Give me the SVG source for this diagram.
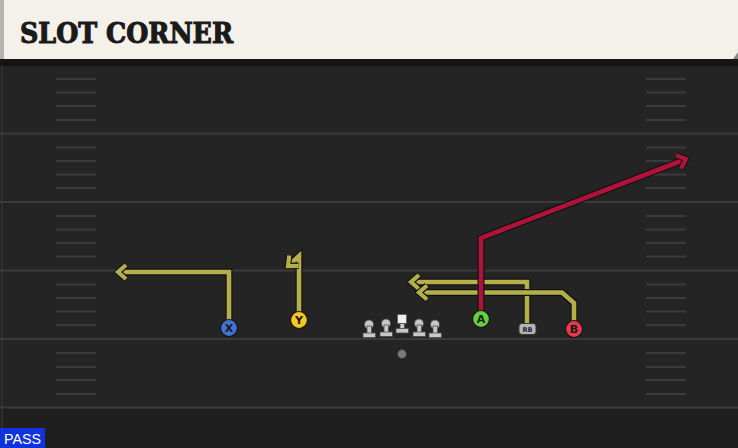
<svg xmlns="http://www.w3.org/2000/svg" width="738" height="448" viewBox="0 0 738 448">
<style>
.yl{stroke:#3a3a3a;stroke-width:2}
.hash{stroke:#3b3b3b;stroke-width:2}
.ro{fill:none;stroke:#121212;stroke-width:7;stroke-linejoin:miter}
.ry{fill:none;stroke:#b4ae4b;stroke-width:4.6;stroke-linejoin:miter}
.rr{fill:none;stroke:#b0123a;stroke-width:4.6;stroke-linejoin:miter}
.pl{stroke:#141414;stroke-width:1.2}
.lt{font-family:"DejaVu Sans",sans-serif;font-weight:bold;font-size:11px;fill:#1a1a1a;text-anchor:middle}
.ol{fill:#c9c9c9;stroke:#4a4a4a;stroke-width:0.8}
</style>
<defs>
<marker id="ay" viewBox="0 0 16 20" refX="12" refY="10" markerWidth="16" markerHeight="20" markerUnits="userSpaceOnUse" orient="auto">
<path d="M4,3 L12,10 L4,17" fill="none" stroke="#121212" stroke-width="6.4" stroke-linejoin="miter" stroke-miterlimit="6"/>
<path d="M4,3 L12,10 L4,17" fill="none" stroke="#b4ae4b" stroke-width="4.2" stroke-linejoin="miter" stroke-miterlimit="6"/>
</marker>
<marker id="ar" viewBox="0 0 16 20" refX="12" refY="10" markerWidth="16" markerHeight="20" markerUnits="userSpaceOnUse" orient="auto">
<path d="M4,3 L12,10 L4,17" fill="none" stroke="#121212" stroke-width="6.4" stroke-linejoin="miter" stroke-miterlimit="6"/>
<path d="M4,3 L12,10 L4,17" fill="none" stroke="#b0123a" stroke-width="4.2" stroke-linejoin="miter" stroke-miterlimit="6"/>
</marker>
</defs>
<g id="field">
<rect x="0" y="0" width="738" height="448" fill="#242424"/>
<rect x="0" y="408" width="738" height="40" fill="#1f1f1f"/>
<line x1="2" y1="60" x2="2" y2="448" stroke="#2e2e2e" stroke-width="2"/>
<line class="yl" x1="0" y1="133.5" x2="738" y2="133.5"/>
<line class="yl" x1="0" y1="202" x2="738" y2="202"/>
<line class="yl" x1="0" y1="270.5" x2="738" y2="270.5"/>
<line class="yl" x1="0" y1="339" x2="738" y2="339"/>
<line class="yl" x1="0" y1="407.5" x2="738" y2="407.5"/>
<g class="hash">
<path d="M56,79H96M56,92.5H96M56,106H96M56,120H96M56,147.5H96M56,161H96M56,174.5H96M56,188H96M56,216H96M56,229.5H96M56,243H96M56,256.5H96M56,284.5H96M56,298H96M56,311.5H96M56,325H96M56,353H96M56,367H96M56,380H96M56,394H96"/>
<path d="M646,79H686M646,92.5H686M646,106H686M646,120H686M646,147.5H686M646,161H686M646,174.5H686M646,188H686M646,216H686M646,229.5H686M646,243H686M646,256.5H686M646,284.5H686M646,298H686M646,311.5H686M646,325H686M646,353H686M646,367H686M646,380H686M646,394H686"/>
</g>
</g>
<g id="header">
<rect x="0" y="58" width="738" height="8" fill="#151515"/>
<rect x="0" y="0" width="738" height="59" fill="#f4f1ea"/>
<rect x="0" y="0" width="4" height="59" fill="#b5b5b0"/>
<path d="M738,52 L733,59 L738,59 Z" fill="#8a8a85"/>
<text x="20" y="43" font-family="'DejaVu Serif Condensed','DejaVu Serif',serif" font-weight="bold" font-size="28" fill="#1a1a1a" stroke="#1a1a1a" stroke-width="1" textLength="213" lengthAdjust="spacingAndGlyphs">SLOT CORNER</text>
</g>
<g id="connectors">
<path class="ro" d="M229,322 V272 H118"/>
<path class="ry" d="M229,322 V272 H118" marker-end="url(#ay)"/>
<path class="ro" d="M299,313 V256 L288,266"/>
<path class="ry" d="M299,313 V256 L288,266" marker-end="url(#ay)"/>
<path class="ro" d="M527,325 V282 H411"/>
<path class="ry" d="M527,325 V282 H411" marker-end="url(#ay)"/>
<path class="ro" d="M574,322 V303 L562,292.5 H419"/>
<path class="ry" d="M574,322 V303 L562,292.5 H419" marker-end="url(#ay)"/>
<path class="ro" d="M481,312 V238 L686,159"/>
<path class="rr" d="M481,312 V238 L686,159" marker-end="url(#ar)"/>
</g>
<g id="X"><circle class="pl" cx="229" cy="328" r="8.5" fill="#3f73d6"/><text class="lt" x="229" y="332">X</text></g>
<g id="Y"><circle class="pl" cx="299" cy="320" r="8.5" fill="#f3c724"/><text class="lt" x="299" y="324">Y</text></g>
<g id="A"><circle class="pl" cx="481" cy="319" r="8.5" fill="#62cf3c"/><text class="lt" x="481" y="323">A</text></g>
<g id="B"><circle class="pl" cx="574" cy="329" r="8.5" fill="#e43a4b"/><text class="lt" x="574" y="333">B</text></g>
<g id="RB"><rect x="519" y="323.5" width="17" height="11" rx="3" fill="#b5b5b5" stroke="#3a3a3a" stroke-width="1"/><text x="527.5" y="332" font-family="'DejaVu Sans',sans-serif" font-weight="bold" font-size="6.5" fill="#222" text-anchor="middle">RB</text></g>
<g id="LT"><circle class="ol" cx="369" cy="324.5" r="4.5"/><rect class="ol" x="367" y="326" width="4.5" height="8"/><rect class="ol" x="363" y="333" width="12.5" height="4.5"/></g>
<g id="LG"><circle class="ol" cx="386" cy="323.5" r="4.5"/><rect class="ol" x="384" y="325" width="4.5" height="8"/><rect class="ol" x="380" y="332" width="12.5" height="4.5"/></g>
<g id="C"><rect x="397.5" y="314.5" width="9" height="9" fill="#f0f0f0" stroke="#5a5a5a" stroke-width="0.8"/><rect class="ol" x="400" y="323.5" width="4.5" height="5.5"/><rect class="ol" x="396" y="328.5" width="12.5" height="4.5"/></g>
<g id="RG"><circle class="ol" cx="419" cy="323.5" r="4.5"/><rect class="ol" x="417" y="325" width="4.5" height="8"/><rect class="ol" x="413" y="332" width="12.5" height="4.5"/></g>
<g id="RT"><circle class="ol" cx="435" cy="324.5" r="4.5"/><rect class="ol" x="433" y="326" width="4.5" height="8"/><rect class="ol" x="429" y="333" width="12.5" height="4.5"/></g>
<g id="QB"><circle cx="402" cy="354" r="4.5" fill="#7a7a7a" stroke="#333" stroke-width="0.8"/></g>
<g id="pass"><rect x="0" y="428" width="45" height="20" fill="#1133dd"/><text x="4" y="444" font-family="'Liberation Sans',Arial,sans-serif" font-size="15" fill="#ffffff" textLength="37" lengthAdjust="spacingAndGlyphs">PASS</text></g>
</svg>
